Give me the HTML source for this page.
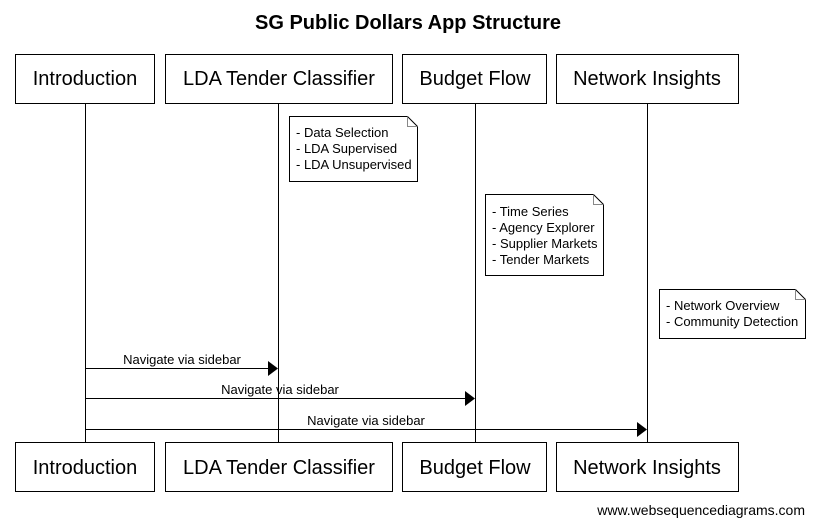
<!DOCTYPE html>
<html><head><meta charset="utf-8"><style>
html,body{margin:0;padding:0;background:#fff;}
svg{display:block;font-family:"Liberation Sans",Arial,sans-serif;}
</style></head><body>
<svg width="815" height="525" viewBox="0 0 815 525" xmlns="http://www.w3.org/2000/svg">
<text x="408" y="29" text-anchor="middle" font-size="20" font-weight="bold">SG Public Dollars App Structure</text>
<g stroke="#000" stroke-width="1" fill="none">
<line x1="85.5" y1="103" x2="85.5" y2="442"/>
<line x1="278.5" y1="103" x2="278.5" y2="442"/>
<line x1="475.5" y1="103" x2="475.5" y2="442"/>
<line x1="647.5" y1="103" x2="647.5" y2="442"/>
</g>
<g stroke="#000" stroke-width="1" fill="#fff">
<rect x="15.5" y="54.5" width="139" height="49"/>
<rect x="165.5" y="54.5" width="227" height="49"/>
<rect x="402.5" y="54.5" width="144" height="49"/>
<rect x="556.5" y="54.5" width="182" height="49"/>
<rect x="15.5" y="442.5" width="139" height="49"/>
<rect x="165.5" y="442.5" width="227" height="49"/>
<rect x="402.5" y="442.5" width="144" height="49"/>
<rect x="556.5" y="442.5" width="182" height="49"/>
</g>
<g font-size="20" text-anchor="middle">
<text x="85" y="85">Introduction</text>
<text x="279" y="85">LDA Tender Classifier</text>
<text x="475" y="85">Budget Flow</text>
<text x="647" y="85">Network Insights</text>
<text x="85" y="474">Introduction</text>
<text x="279" y="474">LDA Tender Classifier</text>
<text x="475" y="474">Budget Flow</text>
<text x="647" y="474">Network Insights</text>
</g>
<g stroke="#000" stroke-width="1" fill="#fff">
<path d="M289.5 116.5 H407.5 L417.5 126.5 V181.5 H289.5 Z"/>
<path d="M485.5 194.5 H593.5 L603.5 204.5 V275.5 H485.5 Z"/>
<path d="M659.5 289.5 H795.5 L805.5 299.5 V338.5 H659.5 Z"/>
</g>
<g stroke="#888" fill="none">
<path d="M407.5 116.5 V126.5 H417.5"/>
<path d="M593.5 194.5 V204.5 H603.5"/>
<path d="M795.5 289.5 V299.5 H805.5"/>
</g>
<g font-size="13">
<text x="296" y="137">- Data Selection</text>
<text x="296" y="153">- LDA Supervised</text>
<text x="296" y="169">- LDA Unsupervised</text>
<text x="492" y="216">- Time Series</text>
<text x="492" y="232">- Agency Explorer</text>
<text x="492" y="248">- Supplier Markets</text>
<text x="492" y="264">- Tender Markets</text>
<text x="666" y="310">- Network Overview</text>
<text x="666" y="326">- Community Detection</text>
</g>
<g stroke="#000" stroke-width="1">
<line x1="85" y1="368.5" x2="270" y2="368.5"/>
<line x1="85" y1="398.5" x2="467" y2="398.5"/>
<line x1="85" y1="429.5" x2="639" y2="429.5"/>
</g>
<g fill="#000">
<polygon points="268,361 278,368.5 268,376"/>
<polygon points="465,391 475,398.5 465,406"/>
<polygon points="637,422 647,429.5 637,437"/>
</g>
<g font-size="13" text-anchor="middle">
<text x="182" y="364">Navigate via sidebar</text>
<text x="280" y="394">Navigate via sidebar</text>
<text x="366" y="425">Navigate via sidebar</text>
</g>
<text x="805" y="515" font-size="14" text-anchor="end">www.websequencediagrams.com</text>
</svg>
</body></html>
